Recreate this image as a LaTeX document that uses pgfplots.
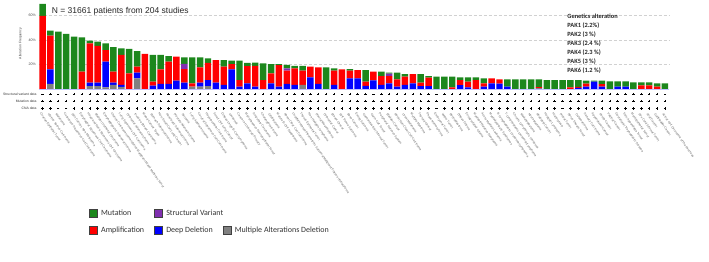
\documentclass[border=0pt]{standalone}
\usepackage{pgfplots}
\pgfplotsset{compat=1.18}
\usepackage{pgfplotstable}
\usepackage{fontspec}
\setmainfont{Liberation Sans}
\newfontfamily\carlito{Carlito}
\definecolor{mutc}{RGB}{28,135,28}
\definecolor{ampc}{RGB}{255,0,0}
\definecolor{delc}{RGB}{0,0,255}
\definecolor{svc}{RGB}{128,48,176}
\definecolor{mulc}{RGB}{128,128,128}

% svd, mutd, cnad: 1 = data available (+), 0 = not available (-)
\pgfplotstableread{
x mut sv amp del multi svd mutd cnad
0 9.8 0 59.6 0 0 0 1 1
1 4.1 0 27.4 12 4.1 1 1 1
2 46.8 0 0 0 0 0 1 0
3 44.9 0 0 0 0 0 1 0
4 42.7 0 0 0 0 1 1 1
5 28.1 0 14.1 0 0 1 1 1
6 2.2 0 32.1 2.7 2.4 1 1 1
7 3.3 0 30.2 2.7 2.4 1 1 1
8 5.4 0 9.5 20.9 1.4 1 1 1
9 19.9 0 9 1.9 3.3 1 1 1
10 5.4 0 24.5 1.5 1.8 1 1 1
11 19.9 0 12.8 0 0 1 1 1
12 12.8 0 4.9 4.6 8.7 1 1 1
13 0 0 28.6 0 0 1 1 1
14 21.8 0 3.3 2.7 0 1 1 1
15 11.7 0 12 4.1 0 1 1 1
16 4.6 0 18.2 4.1 0 1 1 1
17 0 0 19.6 6.8 0 1 1 1
18 5.4 4.3 10.9 5.3 0 1 1 1
19 21.2 0 2.7 0 1.9 1 1 1
20 8.2 0 12.5 3.3 1.9 1 1 1
21 3.5 0 14.1 4.9 2.4 1 1 1
22 0 0 18.5 5.1 0 0 1 1
23 5.4 0 14.9 3.3 0 1 1 1
24 2.7 0 4.4 16 0 1 1 1
25 15.8 0 5.4 1.9 0 1 1 1
26 2.7 0 14.1 4.6 0 1 1 1
27 2.7 0 16.9 1.9 0 1 1 1
28 13.6 0 7.3 0 0 1 1 1
29 7.6 0 8.2 4.6 0 1 1 1
30 1 0 17.5 1.9 0 1 1 1
31 2.7 1.9 10.9 4.1 0 1 1 1
32 1.9 0 13.6 3.3 0 1 1 1
33 3.8 0 11.7 0 3.3 1 1 1
34 0 0 8.7 9.5 0 1 1 1
35 0 0 13.6 4.1 0 1 1 1
36 17.7 0 0 0 0 1 1 1
37 1.9 0 11.7 3.3 0 1 1 1
38 0 0 16.1 0 0 0 1 1
39 1.3 0 6.3 8.7 0 1 1 1
40 0 0 6.8 8.7 0 1 1 1
41 9.5 0 3.5 2.5 0 1 1 1
42 0 0 7 7.1 0 0 1 1
43 3.5 0 7.3 3.3 0 1 1 1
44 0.8 1.9 6 4.6 0 1 1 1
45 5.4 0 6 1.9 0 1 1 1
46 2.2 0 6.7 3.3 0 1 1 1
47 0 0 7.6 4.6 0 1 1 1
48 7.1 0 2.7 2.4 0 1 1 1
49 1.4 0 6.8 2.4 0 1 1 1
50 10 0 0 0 0 0 1 0
51 10 0 0 0 0 1 1 1
52 8.6 0 1.4 0 0 1 1 1
53 2.2 0 4.1 3.2 0 1 1 1
54 3.5 0 4.6 1.4 0 1 1 1
55 2.2 0 7.3 0 0 1 1 1
56 4.1 0 2.7 1.9 0 1 1 1
57 0 0 4.1 4.6 0 1 1 1
58 0 0 3.5 4.4 0 1 1 1
59 5.9 0 0 2 0 1 1 1
60 7.9 0 0 0 0 1 1 1
61 7.9 0 0 0 0 1 1 1
62 7.9 0 0 0 0 1 1 1
63 6.4 0 0.8 0 0.7 0 1 1
64 7.3 0 0 0 0 1 1 1
65 7.3 0 0 0 0 1 1 1
66 7.3 0 0 0 0 0 1 0
67 5.9 0 1.4 0 0 1 1 1
68 5.5 0 0.8 1 0 1 1 1
69 2.4 0 2.4 2 0 1 1 1
70 0.8 0 0 6 0 1 1 1
71 2.8 0 2 2 0 1 1 1
72 6.3 0 0 0 0 1 1 1
73 4.3 0 0 2 0 1 1 1
74 4.3 0 0 2 0 1 1 1
75 5.4 0 0 0 0 1 1 1
76 2.4 0 3 0 0 1 1 1
77 2.4 0 3 0 0 1 1 1
78 2.6 0 2 0 0 1 1 1
79 4.6 0 0 0 0 0 1 1
}\bars

\pgfplotsset{sq/.style={legend image code/.code={\draw[fill=#1,draw=black!75,line width=0.5pt] (0pt,-4.1pt) rectangle (8.2pt,4.1pt);}},
  trk/.style={only marks, black, mark size=1.2pt, every mark/.append style={line width=0.55pt}}}

\begin{document}
\begin{tikzpicture}
\path[use as bounding box] (0pt,0pt) rectangle (709pt,262pt);
% main bar axis
\begin{axis}[
  at={(38.6pt,173pt)}, anchor=south west,
  scale only axis, width=630.3pt, height=88.2pt,
  xmin=-0.5, xmax=79.5, ymin=0, ymax=72,
  ybar stacked, bar width=0.82,
  xtick=\empty,
  ytick={20,40,60}, yticklabels={20\%,40\%,60\%},
  extra y ticks={0}, extra y tick labels={},
  extra y tick style={grid style={solid, blue!25, line width=0.5pt}},
  yticklabel style={font=\fontsize{3.6}{4}\selectfont, text=black!70, inner sep=0pt, xshift=-2.5pt},
  ymajorgrids, grid style={densely dashed, black!18, line width=0.35pt},
  axis line style={draw=none}, tick style={draw=none},
  clip=false,
]
\addplot[fill=mulc, draw=none] table[x=x,y=multi]{\bars};
\addplot[fill=delc, draw=none] table[x=x,y=del]{\bars};
\addplot[fill=ampc, draw=none] table[x=x,y=amp]{\bars};
\addplot[fill=svc, draw=none] table[x=x,y=sv]{\bars};
\addplot[fill=mutc, draw=none] table[x=x,y=mut]{\bars};
\node[anchor=base west, inner sep=0pt, font=\fontsize{8.5}{10}\selectfont, text=black!85] at (axis cs:1.16,61.8) {N = 31661 patients from 204 studies};
\node[rotate=90, font=\fontsize{3.4}{4}\selectfont, text=black!75] at (axis cs:-2.8,37.1) {Alteration Frequency};
\node[anchor=base west, inner sep=0pt, font=\carlito\bfseries\fontsize{6.4}{7}\selectfont, text=black!85] at (axis cs:66.6,57.4) {Genetics alteration};
\node[anchor=base west, inner sep=0pt, font=\carlito\bfseries\fontsize{6.4}{7}\selectfont, text=black!85] at (axis cs:66.6,50.0) {PAK1 (2.2\%)};
\node[anchor=base west, inner sep=0pt, font=\carlito\bfseries\fontsize{6.4}{7}\selectfont, text=black!85] at (axis cs:66.6,42.7) {PAK2 (3 \%)};
\node[anchor=base west, inner sep=0pt, font=\carlito\bfseries\fontsize{6.4}{7}\selectfont, text=black!85] at (axis cs:66.6,35.4) {PAK3 (2.4 \%)};
\node[anchor=base west, inner sep=0pt, font=\carlito\bfseries\fontsize{6.4}{7}\selectfont, text=black!85] at (axis cs:66.6,28.0) {PAK4 (2.3 \%)};
\node[anchor=base west, inner sep=0pt, font=\carlito\bfseries\fontsize{6.4}{7}\selectfont, text=black!85] at (axis cs:66.6,20.7) {PAK5 (3 \%)};
\node[anchor=base west, inner sep=0pt, font=\carlito\bfseries\fontsize{6.4}{7}\selectfont, text=black!85] at (axis cs:66.6,13.3) {PAK6 (1.2 \%)};
\end{axis}
% legend axis
\begin{axis}[
  at={(38.6pt,173pt)}, anchor=south west,
  scale only axis, width=630.3pt, height=88.2pt,
  xmin=0, xmax=1, ymin=0, ymax=1,
  hide axis,
  legend style={at={(0.080,-1.36)}, anchor=north west, draw=none, fill=none,
    inner sep=0pt, outer sep=0pt,
    font=\carlito\fontsize{8}{9.6}\selectfont, text=black!80,
    legend columns=3,
    /tikz/every even column/.append style={column sep=10pt},
    row sep=8pt,
    nodes={inner sep=0pt, anchor=west}},
  legend cell align=left,
]
\addlegendimage{sq=mutc}
\addlegendimage{sq=svc}
\addlegendimage{empty legend}
\addlegendimage{sq=ampc}
\addlegendimage{sq=delc}
\addlegendimage{sq=mulc}
\legend{\hspace{3.4pt}Mutation, \hspace{3.4pt}\makebox[46pt][l]{Structural Variant}, \mbox{}, \hspace{3.4pt}Amplification, \hspace{3.4pt}Deep Deletion, \hspace{3.4pt}Multiple Alterations Deletion}
\end{axis}
% track axis with data availability rows and cancer type labels
\begin{axis}[
  at={(38.6pt,150.1pt)}, anchor=south west,
  scale only axis, width=630.3pt, height=21.5pt,
  xmin=-0.5, xmax=79.5, ymin=0.5, ymax=3.5,
  ytick={1,2,3}, yticklabels={CNA data, Mutation data, Structural variant data},
  yticklabel style={font=\fontsize{3.4}{4}\selectfont, text=black!80, inner sep=0pt, anchor=east, xshift=-2pt},
  xtick={0,...,79},
  xticklabels={Ovarian Epithelial Tumor, Uterine Serous Carcinoma, Melanoma, Cutaneous Squamous Cell Carcinoma, {Skin Cancer, Non-Melanoma}, Esophageal Squamous Cell Carcinoma, Head and Neck Squamous Cell Carcinoma, Bladder Urothelial Carcinoma, Esophagogastric Adenocarcinoma, Uterine Carcinosarcoma/Uterine Malignant Mixed Mullerian Tumor, Lung Squamous Cell Carcinoma, Colorectal Adenocarcinoma, Invasive Breast Carcinoma, Mixed Cancer Types, Stomach Adenocarcinoma, Non-Small Cell Lung Cancer, Pancreatic Adenocarcinoma, Prostate Adenocarcinoma, Sarcoma, Lung Adenocarcinoma, Cervical Squamous Cell Carcinoma, Hepatocellular Carcinoma, Small Cell Lung Cancer, Diffuse Large B-Cell Lymphoma, Leukemia, Cancer of Unknown Primary, Miscellaneous Neuroepithelial Tumor, Ampullary Carcinoma, Cholangiocarcinoma, Glioblastoma, Mature B-Cell Neoplasms, Renal Clear Cell Carcinoma, Undifferentiated Pleomorphic Sarcoma/Malignant Fibrous Histiocytoma, Thymic Epithelial Tumor, Non-Hodgkin Lymphoma, Pleural Mesothelioma, Colorectal Cancer, Breast Cancer, Soft Tissue Sarcoma, Bone Cancer, Ewing Sarcoma, Gastrointestinal Stromal Tumor, Germ Cell Tumor, Peripheral Nervous System, Bladder Cancer, Renal Non-Clear Cell Carcinoma, Uveal Melanoma, Multiple Myeloma, Thyroid Cancer, Pheochromocytoma, Embryonal Tumor, Wilms Tumor, Retinoblastoma, Diffuse Glioma, Encapsulated Glioma, Myeloproliferative Neoplasms, Acute Myeloid Leukemia, Myelodysplastic Syndromes, B-Lymphoblastic Leukemia/Lymphoma, T-Lymphoblastic Leukemia/Lymphoma, Chronic Lymphocytic Leukemia, Medulloblastoma, Neuroblastoma, Rhabdoid Cancer, Hodgkin Lymphoma, Histiocytosis, Pineal Tumor, Nerve Sheath Tumor, Osteosarcoma, Salivary Carcinoma, Appendiceal Cancer, Penile Cancer, Vaginal Cancer, Gestational Trophoblastic Disease, Skin Appendage Tumor, Meningothelial Tumor, Sex Cord Stromal Tumor, Anal Cancer, Gallbladder Cancer, Acinar Cell Carcinoma of the Pancreas},
  xticklabel style={rotate=-55, anchor=west, inner sep=0pt, yshift=-2.5pt, font=\fontsize{3.1}{3.6}\selectfont, text=black!62},
  axis line style={draw=none}, tick style={draw=none},
  clip=false,
]
\addplot[trk, mark=+, restrict expr to domain={\thisrow{svd}}{0.5:1.5}] table[x=x, y expr=3]{\bars};
\addplot[trk, mark=-, restrict expr to domain={\thisrow{svd}}{-0.5:0.5}] table[x=x, y expr=3]{\bars};
\addplot[trk, mark=+, restrict expr to domain={\thisrow{mutd}}{0.5:1.5}] table[x=x, y expr=2]{\bars};
\addplot[trk, mark=-, restrict expr to domain={\thisrow{mutd}}{-0.5:0.5}] table[x=x, y expr=2]{\bars};
\addplot[trk, mark=+, restrict expr to domain={\thisrow{cnad}}{0.5:1.5}] table[x=x, y expr=1]{\bars};
\addplot[trk, mark=-, restrict expr to domain={\thisrow{cnad}}{-0.5:0.5}] table[x=x, y expr=1]{\bars};
\end{axis}
\end{tikzpicture}
\end{document}
